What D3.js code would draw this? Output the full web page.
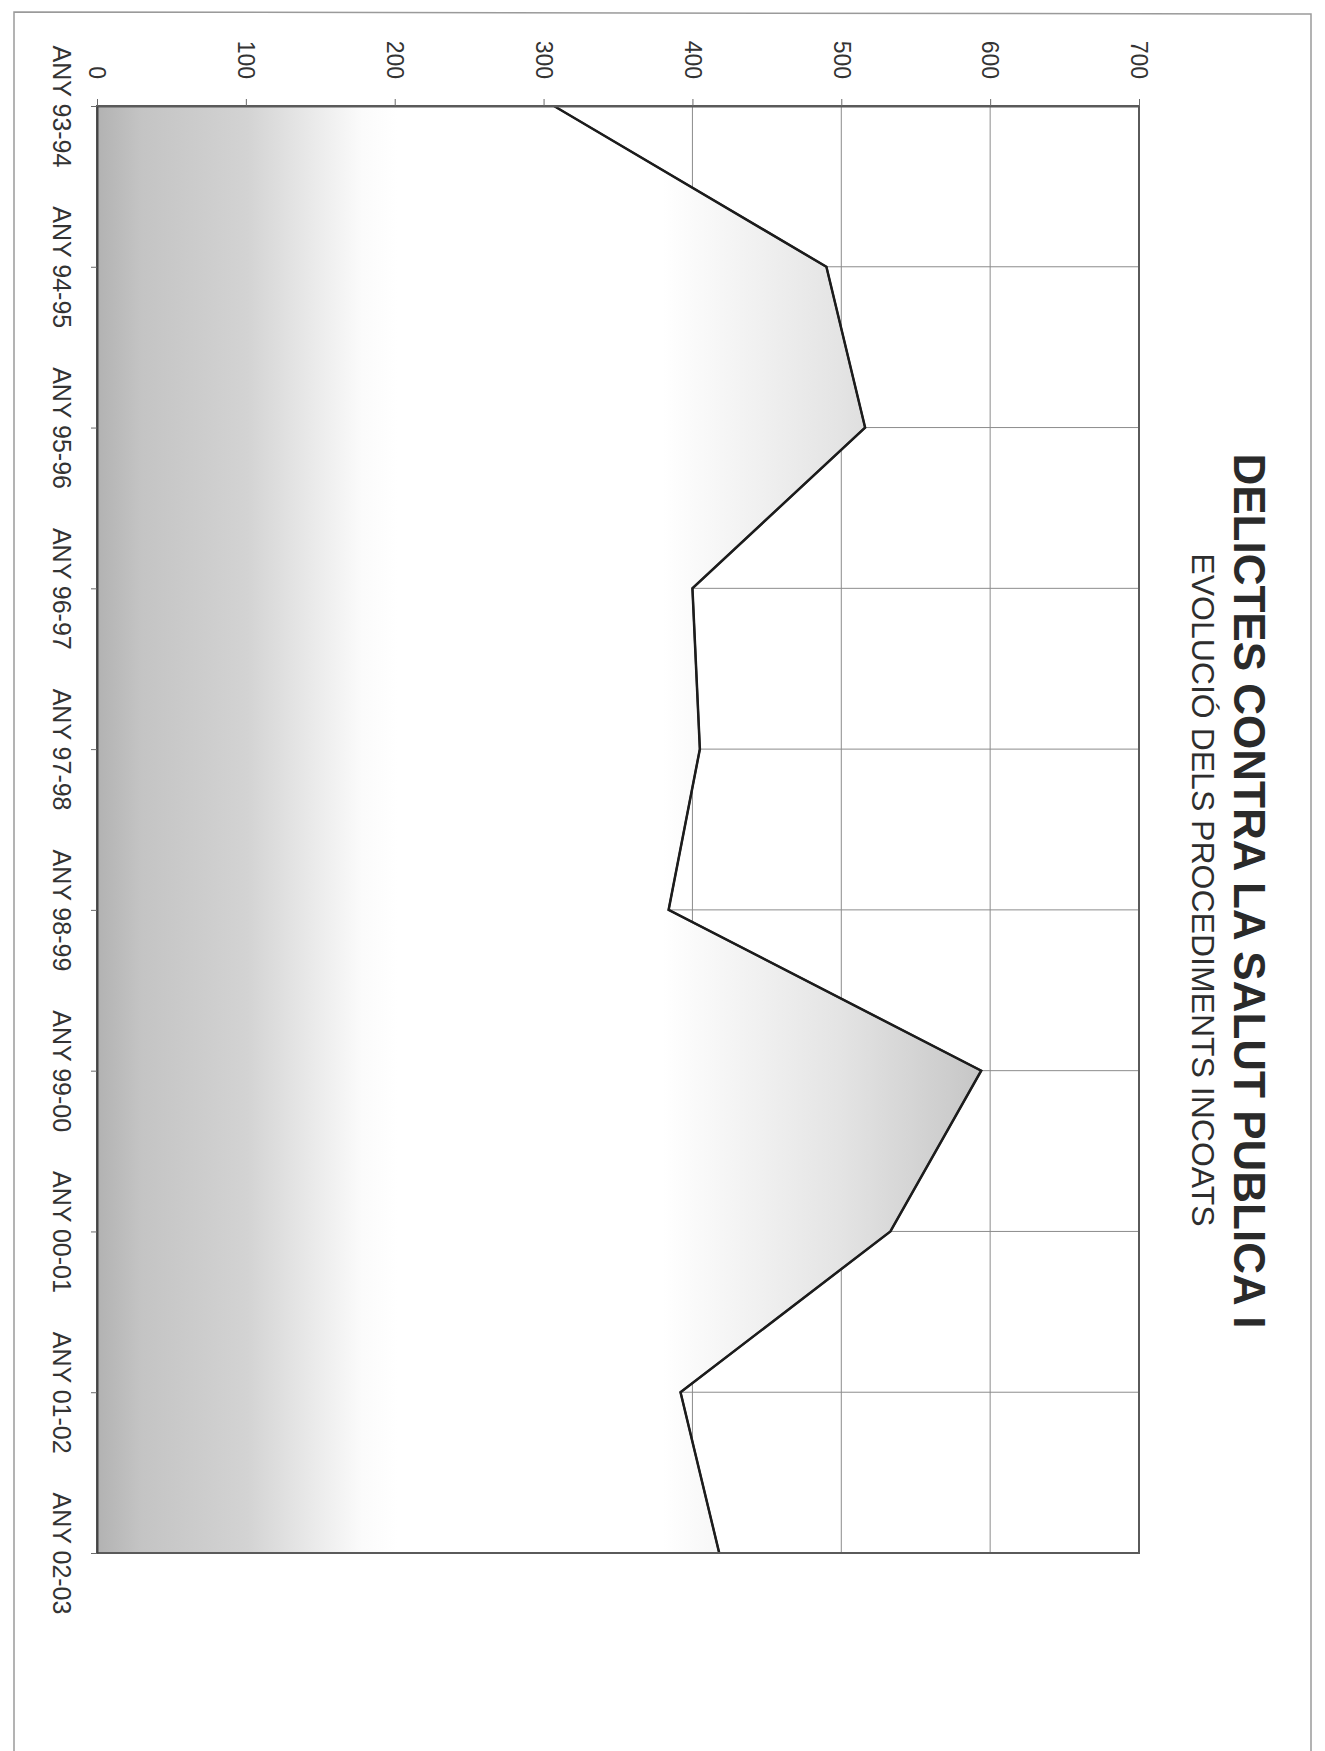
<!DOCTYPE html>
<html>
<head>
<meta charset="utf-8">
<script src="https://cdn.jsdelivr.net/npm/d3@7"></script>
<style>
  html, body { margin: 0; padding: 0; background: #ffffff; }
  svg { display: block; }
  text { font-family: "Liberation Sans", Arial, sans-serif; fill: #333; }
</style>
</head>
<body>
<div id="chart"></div>
<script>
const categories = ["ANY 93-94", "ANY 94-95", "ANY 95-96", "ANY 96-97", "ANY 97-98",
                    "ANY 98-99", "ANY 99-00", "ANY 00-01", "ANY 01-02", "ANY 02-03"];
const values = [307, 490, 516, 400, 405, 384, 594, 533, 392, 418];
const valueTicks = [0, 100, 200, 300, 400, 500, 600, 700];
const titleText = "DELICTES CONTRA LA SALUT PUBLICA I";
const subtitleText = "EVOLUCIÓ DELS PROCEDIMENTS INCOATS";

const W = 1325, H = 1751;
const svg = d3.select("#chart").append("svg").attr("width", W).attr("height", H);

const x = d3.scaleLinear().domain([0, 700]).range([97, 1139]);
const y = d3.scalePoint().domain(categories).range([106, 1553]);
const data = categories.map((c, i) => ({ c, v: values[i] }));

// gradient across the area's extent
const defs = svg.append("defs");
const grad = defs.append("linearGradient").attr("id", "areaGrad")
  .attr("gradientUnits", "userSpaceOnUse")
  .attr("x1", x(0)).attr("x2", x(d3.max(values))).attr("y1", 0).attr("y2", 0);
[[0, "#b2b2b2"], [0.05, "#c4c4c4"], [0.17, "#d3d3d3"], [0.30, "#fbfbfb"], [0.34, "#ffffff"],
 [0.64, "#ffffff"], [0.84, "#e4e4e4"], [1, "#c6c6c6"]]
  .forEach(([o, c]) => grad.append("stop").attr("offset", o).attr("stop-color", c));

// outer page frame
svg.append("path")
  .attr("d", `M14,${H + 5} L14,12 L1311,14 L1311,${H + 5}`)
  .attr("fill", "none").attr("stroke", "#9a9a9a").attr("stroke-width", 1.5);

const [yTop, yBot] = y.range();

// gridlines
svg.append("g").selectAll("line").data(valueTicks.slice(1)).join("line")
  .attr("x1", d => x(d)).attr("x2", d => x(d))
  .attr("y1", yTop).attr("y2", yBot)
  .attr("stroke", "#8c8c8c").attr("stroke-width", 1);
svg.append("g").selectAll("line").data(categories).join("line")
  .attr("x1", x(0)).attr("x2", x(700))
  .attr("y1", d => y(d)).attr("y2", d => y(d))
  .attr("stroke", "#8c8c8c").attr("stroke-width", 1);

// area
const area = d3.area().y(d => y(d.c)).x0(x(0)).x1(d => x(d.v));
svg.append("path").datum(data).attr("d", area)
  .attr("fill", "url(#areaGrad)").attr("stroke", "#3a3a3a").attr("stroke-width", 2);

// data line
const line = d3.line().y(d => y(d.c)).x(d => x(d.v));
svg.append("path").datum(data).attr("d", line)
  .attr("fill", "none").attr("stroke", "#1c1c1c").attr("stroke-width", 2.5)
  .attr("stroke-linejoin", "miter");

// plot border
svg.append("rect").attr("x", x(0)).attr("y", yTop)
  .attr("width", x(700) - x(0)).attr("height", yBot - yTop)
  .attr("fill", "none").attr("stroke", "#5a5a5a").attr("stroke-width", 2);

// value axis (top)
const gx = svg.append("g").attr("transform", `translate(0,${yTop})`)
  .call(d3.axisTop(x).tickValues(valueTicks).tickSize(7).tickSizeOuter(0).tickFormat(d3.format("d")));
gx.select(".domain").attr("stroke", "#5a5a5a").attr("stroke-width", 2);
gx.selectAll(".tick line").attr("stroke", "#6a6a6a");
gx.selectAll(".tick text")
  .attr("x", 0).attr("y", 0).attr("dy", "0.36em")
  .attr("transform", "translate(0,-27) rotate(90)")
  .attr("text-anchor", "end")
  .style("font-size", "23px").style("fill", "#333");

// category axis (left)
const gy = svg.append("g").attr("transform", `translate(${x(0)},0)`)
  .call(d3.axisLeft(y).tickSize(6).tickSizeOuter(0));
gy.select(".domain").attr("stroke", "#444").attr("stroke-width", 2);
gy.selectAll(".tick line").attr("stroke", "#6a6a6a");
gy.selectAll(".tick text")
  .attr("x", 0).attr("y", 0).attr("dy", 0)
  .attr("transform", "translate(-44,0) rotate(90)")
  .attr("text-anchor", "middle")
  .style("font-size", "25px").style("fill", "#333");

// titles
svg.append("text")
  .attr("transform", "translate(1234,891) rotate(90)")
  .attr("text-anchor", "middle")
  .style("font-size", "44px").style("font-weight", "bold").style("fill", "#2a2a2a")
  .text(titleText);
svg.append("text")
  .attr("transform", "translate(1192,890) rotate(90)")
  .attr("text-anchor", "middle")
  .style("font-size", "32px").style("fill", "#2e2e2e")
  .text(subtitleText);
</script>
</body>
</html>
